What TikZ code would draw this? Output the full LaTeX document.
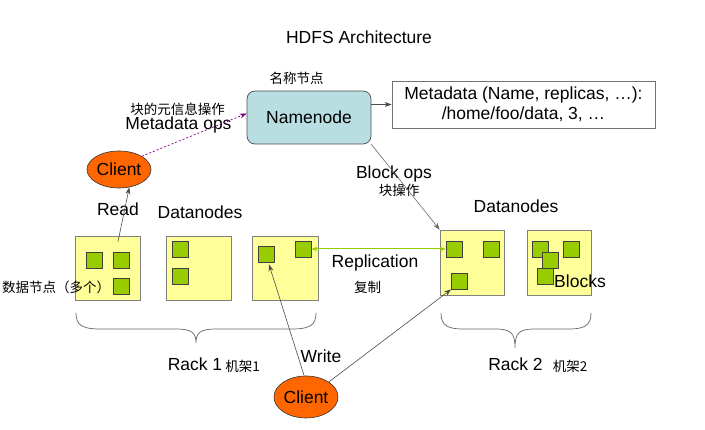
\documentclass[tikz,border=0pt]{standalone}
\usepackage{fontspec}
\setmainfont{Liberation Sans}
\newfontfamily\cjk{Noto Sans CJK SC}
\usetikzlibrary{arrows.meta,shapes.geometric,calc}
\definecolor{nnblue}{RGB}{185,222,226}
\definecolor{dnyellow}{RGB}{255,255,153}
\definecolor{blkgreen}{RGB}{153,204,0}
\definecolor{clorange}{RGB}{255,102,0}
\definecolor{opspurple}{RGB}{128,0,128}
\tikzset{
  lab/.style={inner sep=0pt, font=\fontsize{17.5}{21}\selectfont},
  cjklab/.style={inner sep=0pt, font=\cjk\fontsize{13.5}{16}\selectfont},
  dnbox/.style={draw=black!50, fill=dnyellow, line width=0.8pt, inner sep=0pt, minimum width=65pt, minimum height=64pt},
  blk/.style={draw=black!75, fill=blkgreen, line width=0.8pt, inner sep=0pt, minimum size=16pt},
  clientnode/.style={ellipse, draw=black!80, fill=clorange, line width=0.6pt, inner sep=0pt, minimum width=64pt, font=\fontsize{17.5}{21}\selectfont},
  conn/.style={draw=black!70, line width=0.6pt, -{Stealth[length=7pt,width=5pt]}},
  bracepath/.style={draw=black!60, line width=0.7pt},
}
\begin{document}
\begin{tikzpicture}[x=1pt,y=-1pt]
\useasboundingbox (0,0) rectangle (705,430);

% title
\node[lab] (title) at (359,37) {HDFS Architecture};

% namenode
\node[cjklab] (nnlab) at (296.5,78) {名称节点};
\node[draw=black!70, fill=nnblue, rounded corners=8pt, line width=0.7pt, inner sep=0pt,
      minimum width=124pt, minimum height=53pt, font=\fontsize{17.5}{21}\selectfont] (nn) at (309,117.5) {Namenode};

% metadata box
\node[draw=black!55, fill=white, line width=0.8pt, inner sep=0pt, minimum width=263pt, minimum height=47pt,
      align=center, font=\fontsize{17.5}{20}\selectfont] (meta) at (523.5,104.5)
      {Metadata (Name, replicas, …):\\/home/foo/data, 3, …};
\draw[conn] (meta.west -| nn.east) -- (meta.west);

% client 1
\node[clientnode, minimum height=37pt] (c1) at (119,169.5) {Client};
\node[cjklab] (mopscn) at (177.5,109) {块的元信息操作};
\node[lab] (mops) at (178.5,125) {Metadata ops};
\draw[opspurple, line width=0.7pt, dash pattern=on 2pt off 2pt, -{Stealth[length=7pt,width=5pt]}]
  (c1.north east) -- ([yshift=4pt]nn.west);

% labels
\node[lab] (read) at (118,209) {Read};
\node[lab] (dnl) at (200,212) {Datanodes};
\node[lab] (dnr) at (516,206) {Datanodes};
\node[lab] (bops) at (394,174) {Block ops};
\node[cjklab] (bopscn) at (399,190) {块操作};

% rack 1 datanodes
\node[dnbox] (d1) at (107.5,268) {};
\node[dnbox] (d2) at (198.5,268) {};
\node[dnbox, minimum width=66pt] (d3) at (285,268) {};
\node[blk] (d1a) at (94.5,260) {};
\node[blk] (d1b) at (121,260) {};
\node[blk] (d1c) at (121,286.5) {};
\node[blk] (d2a) at (180.5,249) {};
\node[blk] (d2b) at (180.5,276) {};
\node[blk] (d3a) at (266,254.5) {};
\node[blk] (d3b) at (303,249) {};
\node[cjklab] (dncn) at (56,287) {数据节点（多个）};

% rack 2 datanodes
\node[dnbox, minimum height=65pt, minimum width=64pt] (d4) at (472,262.5) {};
\node[dnbox, minimum height=65pt, minimum width=64pt] (d5) at (559,262.5) {};
\node[blk] (d4a) at (454,249) {};
\node[blk] (d4b) at (491,249) {};
\node[blk] (d4c) at (459.5,281) {};
\node[blk] (d5a) at (540,249) {};
\node[blk] (d5b) at (571,249) {};
\node[blk] (d5d) at (545,276) {};
\node[blk] (d5c) at (550.5,260.5) {};
\node[lab] (blocks) at (580,281) {Blocks};

% read
\coordinate (readstart) at ($(d1.north)+(10.5,6)$);
\draw[conn] (readstart) -- (c1.-60);

% block ops
\draw[draw=black!60, line width=0.6pt, -{Stealth[length=7pt,width=5pt]}] (nn.south east) -- (d4.north west);

% replication
\draw[blkgreen, line width=1pt, {Stealth[length=6pt,width=4.5pt]}-{Stealth[length=6pt,width=4.5pt]}] (d3b.east) -- (d4a.west);
\node[lab] (repl) at (375,263) {Replication};
\node[cjklab] (replcn) at (367.5,287) {复制};

% braces
\draw[bracepath] (76,313) .. controls (76,325) and (82,329) .. (100,329) -- (176,329)
  .. controls (192,329) and (196,333) .. (196,343)
  .. controls (196,333) and (200,329) .. (216,329) -- (292,329)
  .. controls (310,329) and (316,325) .. (316,313);
\draw[bracepath] (441,313) .. controls (441,325) and (447,329) .. (463,329) -- (495,329)
  .. controls (511,329) and (515,333) .. (515,348)
  .. controls (515,333) and (519,329) .. (535,329) -- (569,329)
  .. controls (585,329) and (591,325) .. (591,313);
\node[lab] (rack1) at (195,364) {Rack 1};
\node[cjklab] (rack1cn) at (242.5,366) {机架1};
\node[lab] (rack2) at (515.5,364) {Rack 2};
\node[cjklab] (rack2cn) at (570,366) {机架2};

% client 2 and writes
\node[clientnode, minimum height=42pt] (c2) at (306,397) {Client};
\node[lab] (write) at (321,356) {Write};
\draw[conn] (c2.95) -- ([xshift=3pt,yshift=-1.5pt]d3a.south);
\draw[conn] (c2.north east) -- (d4c.south west);
\end{tikzpicture}
\end{document}
